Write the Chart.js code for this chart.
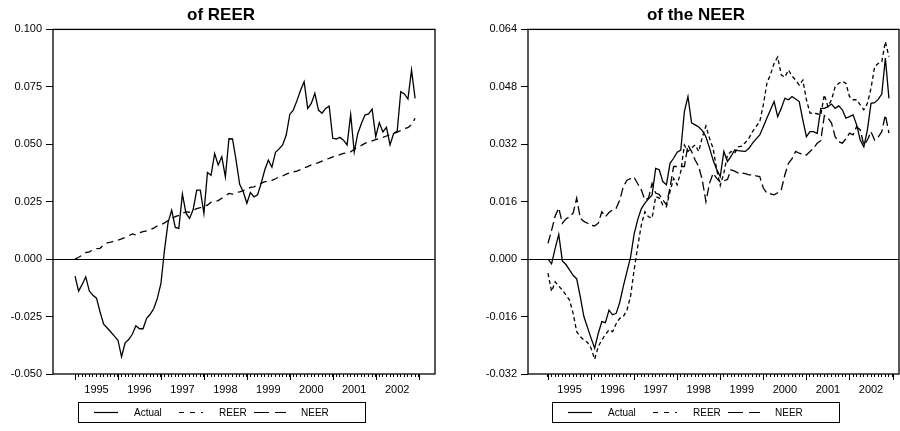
<!DOCTYPE html>
<html>
<head>
<meta charset="utf-8">
<script src="https://cdn.jsdelivr.net/npm/chart.js@4.4.1/dist/chart.umd.min.js"></script>
<style>
  body { margin: 0; background: #fff; }
  #wrap { position: relative; width: 900px; height: 431px; overflow: hidden; font-family: "Liberation Sans", Arial, sans-serif; }
  .panel { position: absolute; top: 0; width: 450px; height: 431px; }
  .legend { position: absolute; top: 402px; width: 288px; height: 21px; border: 1px solid #000; box-sizing: border-box; font-size: 10px; color: #000; }
  .legend svg, .legend span { position: absolute; }
  .legend span { top: 3px; line-height: 13px; }
</style>
</head>
<body>
<div id="wrap">
  <div class="panel" style="left:0"><canvas id="left" width="450" height="431"></canvas></div>
  <div class="panel" style="left:450px"><canvas id="right" width="450" height="431"></canvas></div>
  <div class="legend" id="legLeft" style="left:78px"></div>
  <div class="legend" id="legRight" style="left:552px"></div>
</div>
<script>
// monthly data, 1995M01 .. 2002M12
var yearLabels = ['1995', '1996', '1997', '1998', '1999', '2000', '2001', '2002'];
var seriesNames = ['Actual', 'REER', 'NEER'];
var leftYTicks = [-0.05, -0.025, 0, 0.025, 0.05, 0.075, 0.1];
var rightYTicks = [-0.032, -0.016, 0, 0.016, 0.032, 0.048, 0.064];

var leftActual = [
  -0.0074, -0.0139, -0.0110, -0.0077, -0.0139, -0.0157, -0.0170, -0.0230, -0.0283, -0.0300, -0.0317, -0.0335,
  -0.0353, -0.0425, -0.0364, -0.0350, -0.0327, -0.0290, -0.0303, -0.0303, -0.0258, -0.0240, -0.0215, -0.0171,
  -0.0106, 0.0040, 0.0160, 0.0213, 0.0138, 0.0134, 0.0283, 0.0200, 0.0177, 0.0216, 0.0300, 0.0300,
  0.0199, 0.0377, 0.0365, 0.0460, 0.0410, 0.0446, 0.0358, 0.0524, 0.0523, 0.0430, 0.0326, 0.0293,
  0.0243, 0.0290, 0.0271, 0.0280, 0.0330, 0.0388, 0.0431, 0.0400, 0.0465, 0.0480, 0.0497, 0.0540,
  0.0630, 0.0650, 0.0690, 0.0735, 0.0772, 0.0656, 0.0678, 0.0722, 0.0649, 0.0635, 0.0656, 0.0666,
  0.0526, 0.0523, 0.0530, 0.0518, 0.0497, 0.0630, 0.0467, 0.0547, 0.0590, 0.0627, 0.0632, 0.0653,
  0.0533, 0.0594, 0.0554, 0.0574, 0.0497, 0.0547, 0.0557, 0.0729, 0.0719, 0.0697, 0.0823, 0.0700
];
var leftReer = [
  0.0000, 0.0008, 0.0017, 0.0028, 0.0032, 0.0040, 0.0046, 0.0047, 0.0062, 0.0071, 0.0074, 0.0078,
  0.0083, 0.0088, 0.0095, 0.0102, 0.0110, 0.0105, 0.0115, 0.0120, 0.0123, 0.0128, 0.0135, 0.0145,
  0.0150, 0.0158, 0.0168, 0.0177, 0.0185, 0.0190, 0.0200, 0.0206, 0.0205, 0.0213, 0.0220, 0.0224,
  0.0230, 0.0235, 0.0248, 0.0250, 0.0255, 0.0265, 0.0275, 0.0286, 0.0283, 0.0290, 0.0293, 0.0298,
  0.0305, 0.0312, 0.0315, 0.0322, 0.0330, 0.0337, 0.0337, 0.0343, 0.0350, 0.0358, 0.0362, 0.0370,
  0.0375, 0.0380, 0.0383, 0.0390, 0.0397, 0.0403, 0.0410, 0.0415, 0.0420, 0.0427, 0.0433, 0.0439,
  0.0445, 0.0450, 0.0455, 0.0460, 0.0463, 0.0467, 0.0478, 0.0488, 0.0495, 0.0504, 0.0510, 0.0515,
  0.0520, 0.0526, 0.0530, 0.0536, 0.0542, 0.0547, 0.0553, 0.0560, 0.0568, 0.0572, 0.0585, 0.0613
];
var rightActual = [
  0.0000, -0.0013, 0.0030, 0.0069, -0.0005, -0.0015, -0.0030, -0.0045, -0.0055, -0.0105, -0.0160, -0.0190,
  -0.0220, -0.0248, -0.0207, -0.0174, -0.0177, -0.0142, -0.0155, -0.0151, -0.0120, -0.0075, -0.0035, 0.0005,
  0.0070, 0.0110, 0.0140, 0.0156, 0.0168, 0.0179, 0.0253, 0.0249, 0.0216, 0.0207, 0.0267, 0.0281,
  0.0298, 0.0304, 0.0411, 0.0453, 0.0380, 0.0374, 0.0368, 0.0358, 0.0341, 0.0310, 0.0276, 0.0250,
  0.0230, 0.0300, 0.0272, 0.0286, 0.0304, 0.0302, 0.0301, 0.0300, 0.0309, 0.0323, 0.0335, 0.0346,
  0.0369, 0.0393, 0.0416, 0.0439, 0.0397, 0.0420, 0.0448, 0.0444, 0.0453, 0.0446, 0.0439, 0.0388,
  0.0341, 0.0355, 0.0355, 0.0350, 0.0420, 0.0420, 0.0425, 0.0432, 0.0420, 0.0427, 0.0416, 0.0393,
  0.0397, 0.0402, 0.0374, 0.0332, 0.0313, 0.0360, 0.0434, 0.0436, 0.0445, 0.0460, 0.0560, 0.0448
];
var rightReer = [
  -0.0039, -0.0090, -0.0063, -0.0075, -0.0086, -0.0100, -0.0114, -0.0151, -0.0202, -0.0216, -0.0225, -0.0232,
  -0.0248, -0.0279, -0.0244, -0.0225, -0.0210, -0.0197, -0.0202, -0.0180, -0.0165, -0.0160, -0.0142, -0.0104,
  -0.0030, 0.0035, 0.0095, 0.0132, 0.0118, 0.0114, 0.0174, 0.0170, 0.0151, 0.0146, 0.0188, 0.0225,
  0.0207, 0.0244, 0.0318, 0.0300, 0.0310, 0.0318, 0.0300, 0.0340, 0.0371, 0.0337, 0.0309, 0.0250,
  0.0205, 0.0240, 0.0290, 0.0300, 0.0295, 0.0313, 0.0315, 0.0325, 0.0337, 0.0355, 0.0370, 0.0383,
  0.0430, 0.0490, 0.0515, 0.0545, 0.0563, 0.0513, 0.0507, 0.0527, 0.0510, 0.0499, 0.0485, 0.0499,
  0.0444, 0.0407, 0.0407, 0.0405, 0.0402, 0.0458, 0.0425, 0.0444, 0.0480, 0.0490, 0.0495, 0.0490,
  0.0453, 0.0444, 0.0444, 0.0430, 0.0416, 0.0434, 0.0476, 0.0536, 0.0545, 0.0550, 0.0606, 0.0564
];
var rightNeer = [
  0.0044, 0.0080, 0.0120, 0.0142, 0.0100, 0.0112, 0.0118, 0.0128, 0.0170, 0.0114, 0.0105, 0.0100,
  0.0095, 0.0092, 0.0100, 0.0132, 0.0118, 0.0130, 0.0137, 0.0142, 0.0165, 0.0202, 0.0220, 0.0224,
  0.0228, 0.0210, 0.0193, 0.0165, 0.0170, 0.0211, 0.0184, 0.0180, 0.0165, 0.0151, 0.0200, 0.0258,
  0.0258, 0.0258, 0.0258, 0.0318, 0.0300, 0.0276, 0.0258, 0.0220, 0.0160, 0.0211, 0.0239, 0.0225,
  0.0215, 0.0218, 0.0222, 0.0249, 0.0245, 0.0240, 0.0240, 0.0238, 0.0235, 0.0235, 0.0232, 0.0230,
  0.0198, 0.0184, 0.0182, 0.0179, 0.0185, 0.0193, 0.0235, 0.0267, 0.0280, 0.0300, 0.0295, 0.0292,
  0.0290, 0.0300, 0.0309, 0.0323, 0.0330, 0.0400, 0.0393, 0.0379, 0.0341, 0.0327, 0.0323, 0.0335,
  0.0351, 0.0346, 0.0369, 0.0360, 0.0318, 0.0332, 0.0355, 0.0332, 0.0340, 0.0355, 0.0402, 0.0351
];

var dashes = { Actual: [], REER: [5, 6], NEER: [15, 6] };
var FONT = '"Liberation Sans", Arial, sans-serif';

function toPoints(values) {
  return values.map(function (v, i) { return { x: i, y: v }; });
}

function line(label, values, dash) {
  return {
    label: label,
    data: toPoints(values),
    borderColor: '#000',
    borderWidth: 1.3,
    borderDash: dash,
    pointRadius: 0,
    tension: 0,
    fill: false
  };
}

var monthTicks = [];
for (var m = 0; m <= yearLabels.length * 12; m++) monthTicks.push(m);

var framePlugin = {
  id: 'frame',
  afterLayout: function (chart) {
    // centre the title where the original puts it
    var c = chart.options.titleCenter, t = chart.titleBlock;
    if (t && c) { t.left = c - 150; t.right = c + 150; }
  },
  afterDraw: function (chart) {
    var ctx = chart.ctx, a = chart.chartArea, x = chart.scales.x;
    ctx.save();
    ctx.strokeStyle = '#000';
    ctx.lineWidth = 1.3;
    ctx.strokeRect(a.left, a.top, a.right - a.left, a.bottom - a.top);
    // year boundaries get a longer tick
    ctx.lineWidth = 1;
    for (var k = 0; k <= yearLabels.length; k++) {
      var px = Math.round(x.getPixelForValue(k * 12)) + 0.5;
      ctx.beginPath();
      ctx.moveTo(px, a.bottom);
      ctx.lineTo(px, a.bottom + 6);
      ctx.stroke();
    }
    ctx.restore();
  }
};

function makeChart(id, cfg) {
  return new Chart(document.getElementById(id).getContext('2d'), {
    type: 'line',
    data: { datasets: cfg.datasets },
    plugins: [framePlugin],
    options: {
      responsive: false,
      animation: false,
      titleCenter: cfg.titleCenter,
      layout: { padding: { left: 0, right: cfg.padRight, top: 0, bottom: 0 } },
      plugins: {
        legend: { display: false },
        tooltip: { enabled: false },
        title: {
          display: true,
          text: cfg.title,
          color: '#000',
          font: { family: FONT, size: 17, weight: 'bold' },
          padding: { top: 5, bottom: 4 }
        }
      },
      scales: {
        x: {
          type: 'linear',
          bounds: 'data',
          min: cfg.xMin,
          max: cfg.xMax,
          border: { display: false },
          grid: { drawOnChartArea: false, drawTicks: true, tickLength: 3, tickColor: '#000', lineWidth: 1 },
          afterBuildTicks: function (s) {
            s.ticks = monthTicks.map(function (v) { return { value: v }; });
          },
          afterFit: function (s) { s.height = 57; },
          ticks: {
            autoSkip: false,
            maxRotation: 0,
            minRotation: 0,
            padding: 6,
            color: '#000',
            font: { family: FONT, size: 11 },
            callback: function (v) {
              return v % 12 === 6 ? yearLabels[(v - 6) / 12] : '';
            }
          }
        },
        y: {
          min: cfg.yTicks[0],
          max: cfg.yTicks[cfg.yTicks.length - 1],
          border: { display: false },
          grid: {
            drawOnChartArea: true,
            tickLength: 7,
            tickColor: '#000',
            lineWidth: 1,
            color: function (c) { return c.tick && Math.abs(c.tick.value) < 1e-9 ? '#000' : 'rgba(0,0,0,0)'; }
          },
          afterBuildTicks: function (s) {
            s.ticks = cfg.yTicks.map(function (v) { return { value: v }; });
          },
          afterFit: function (s) { s.width = cfg.yWidth; },
          ticks: {
            padding: 4,
            color: '#000',
            font: { family: FONT, size: 11 },
            callback: function (v) { return v.toFixed(3); }
          }
        }
      }
    }
  });
}

makeChart('left', {
  title: 'of REER',
  titleCenter: 221,
  padRight: 15, yWidth: 53,
  xMin: -6.15, xMax: 100.56,
  yTicks: leftYTicks,
  datasets: [
    line('Actual', leftActual, dashes.Actual),
    line('REER', leftReer, [7, 5])
  ]
});

makeChart('right', {
  title: 'of the NEER',
  titleCenter: 246,
  padRight: 1, yWidth: 78,
  xMin: -5.57, xMax: 97.8,
  yTicks: rightYTicks,
  datasets: [
    line('Actual', rightActual, dashes.Actual),
    line('REER', rightReer, [4, 3]),
    line('NEER', rightNeer, [9, 4])
  ]
});

// legend boxes (same for both panels)
var legendLayout = [
  { sample: 15, width: 24, text: 55 },
  { sample: 100, width: 24, text: 140 },
  { sample: 175, width: 32, text: 222 }
];
['legLeft', 'legRight'].forEach(function (id) {
  var box = document.getElementById(id);
  seriesNames.forEach(function (name, i) {
    var L = legendLayout[i];
    var svg = document.createElementNS('http://www.w3.org/2000/svg', 'svg');
    svg.setAttribute('width', L.width);
    svg.setAttribute('height', 3);
    svg.style.left = L.sample + 'px';
    svg.style.top = '8px';
    var ln = document.createElementNS('http://www.w3.org/2000/svg', 'line');
    ln.setAttribute('x1', 0); ln.setAttribute('x2', L.width);
    ln.setAttribute('y1', 1.5); ln.setAttribute('y2', 1.5);
    ln.setAttribute('stroke', '#000');
    ln.setAttribute('stroke-width', 1.2);
    if (dashes[name].length) ln.setAttribute('stroke-dasharray', dashes[name].join(' '));
    svg.appendChild(ln);
    box.appendChild(svg);
    var t = document.createElement('span');
    t.textContent = name;
    t.style.left = L.text + 'px';
    box.appendChild(t);
  });
});
</script>
</body>
</html>
